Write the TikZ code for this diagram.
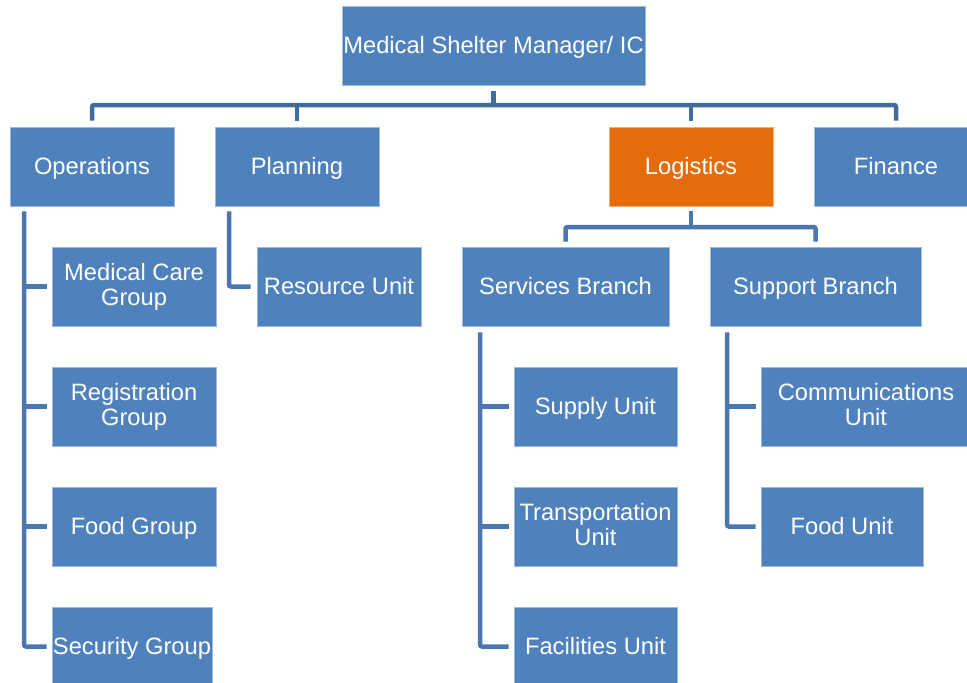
\documentclass[tikz,border=0pt]{standalone}
\usepackage{fontspec}
\setmainfont{Liberation Sans}
\usetikzlibrary{calc}
\definecolor{boxblue}{HTML}{4F81BD}
\definecolor{boxorange}{HTML}{E46C0A}
\definecolor{buscol}{HTML}{416C9E}
\definecolor{linkcol}{HTML}{4A77AE}
% fixed line height so every label sits on the same baseline
\newcommand{\lblstrut}{\rule[-5pt]{0pt}{25pt}}
\begin{document}
\begin{tikzpicture}[x=1pt,y=-1pt,
  box/.style={rectangle, fill=boxblue, draw=boxblue!55!white, line width=0.8pt,
    text=white, align=center, inner sep=0pt,
    minimum width=164pt, minimum height=79pt,
    font=\fontsize{23.7}{25}\selectfont,
    execute at begin node=\lblstrut, execute at end node=\lblstrut},
  hot/.style={fill=boxorange, draw=boxorange!55!white},
  bus/.style={draw=buscol, line width=4.5pt, rounded corners=2pt},
  link/.style={draw=linkcol, line width=4.5pt, rounded corners=2pt}]
\useasboundingbox (0,0) rectangle (967,683);
\clip (0,0) rectangle (967,683);

% top manager
\node[box, minimum width=303pt] (top) at (493.5,45.5) {Medical Shelter Manager/ IC};

% sections
\node[box] (ops)  at (92,166.5)  {Operations};
\node[box] (plan) at (297,166.5) {Planning};
\node[box, hot] (log) at (691,166.5) {Logistics};
\node[box] (fin)  at (896,166.5) {Finance};

% operations groups
\node[box] (medcare) at (134,286.5) {Medical Care\\Group};
\node[box] (reg)     at (134,406.5) {Registration\\Group};
\node[box] (foodg)   at (134,526.5) {Food Group};
\node[box, minimum width=160pt] (sec) at (132,646.5) {Security Group};

% planning unit
\node[box] (res) at (339,286.5) {Resource Unit};

% logistics branches
\node[box, minimum width=207pt] (serv) at (565.5,286.5) {Services Branch};
\node[box, minimum width=211pt] (supp) at (815.5,286.5) {Support Branch};

% services units
\node[box, minimum width=163pt] (supply) at (595.5,406.5) {Supply Unit};
\node[box, minimum width=163pt] (trans)  at (595.5,526.5) {Transportation\\Unit};
\node[box, minimum width=163pt] (facil)  at (595.5,646.5) {Facilities Unit};

% support units
\node[box, minimum width=210pt] (comm)  at (866,406.5) {Communications\\Unit};
\node[box, minimum width=162pt] (foodu) at (842,526.5) {Food Unit};

% guide coordinates for the bus lines
\coordinate (busy) at (0,105);
\coordinate (logy) at (0,227);
\coordinate (opsx) at (24,0);
\coordinate (planx) at (229,0);
\coordinate (servx) at (480,0);
\coordinate (suppx) at (727,0);

% top bus
\draw[bus] ($(top.south)+(0,6)$) -- (top.south |- busy);
\draw[bus] ($(ops.north)+(0,-6)$) -- (ops.north |- busy) -- (fin.north |- busy) -- ($(fin.north)+(0,-6)$);
\draw[bus] ($(plan.north)+(0,-6)$) -- (plan.north |- busy);
\draw[bus] ($(log.north)+(0,-6)$) -- (log.north |- busy);

% operations
\draw[link] ($(ops.south -| opsx)+(0,5)$) -- (sec.west -| opsx) -- ($(sec.west)+(-5,0)$);
\draw[link] (medcare.west -| opsx) -- ($(medcare.west)+(-5,0)$);
\draw[link] (reg.west -| opsx) -- ($(reg.west)+(-5,0)$);
\draw[link] (foodg.west -| opsx) -- ($(foodg.west)+(-5,0)$);

% planning
\draw[link] ($(plan.south -| planx)+(0,5)$) -- (res.west -| planx) -- ($(res.west)+(-6,0)$);

% logistics
\draw[link] ($(log.south)+(0,5)$) -- (log.south |- logy);
\draw[link] ($(serv.north)+(0,-5)$) -- (serv.north |- logy) -- (supp.north |- logy) -- ($(supp.north)+(0,-5)$);

% services branch
\draw[link] ($(serv.south -| servx)+(0,6)$) -- (facil.west -| servx) -- ($(facil.west)+(-5,0)$);
\draw[link] (supply.west -| servx) -- ($(supply.west)+(-5,0)$);
\draw[link] (trans.west -| servx) -- ($(trans.west)+(-5,0)$);

% support branch
\draw[link] ($(supp.south -| suppx)+(0,6)$) -- (foodu.west -| suppx) -- ($(foodu.west)+(-5,0)$);
\draw[link] (comm.west -| suppx) -- ($(comm.west)+(-5,0)$);
\end{tikzpicture}
\end{document}
